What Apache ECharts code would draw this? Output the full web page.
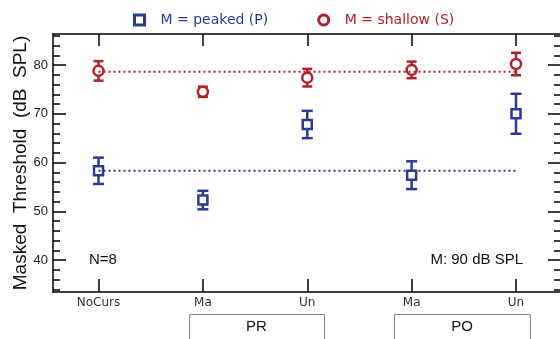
<!DOCTYPE html>
<html>
<head>
<meta charset="utf-8">
<script src="https://cdn.jsdelivr.net/npm/echarts@6/dist/echarts.min.js"></script>
<style>
html,body{margin:0;padding:0;background:#fff;}
#chart{width:560px;height:339px;}
</style>
</head>
<body>
<div id="chart"></div>
<script>
// ---- data ----
const categories = ['NoCurs', 'Ma', 'Un', 'Ma', 'Un'];
const groupLabels = ['PR', 'PO'];
const peakedMean = [58.3, 52.3, 67.8, 57.4, 70.0];
const peakedErr = [2.7, 1.9, 2.8, 2.85, 4.1];
const shallowMean = [78.8, 74.5, 77.4, 79.0, 80.2];
const shallowErr = [2.0, 1.05, 1.8, 1.7, 2.3];
const yTicks = [40, 50, 60, 70, 80];
const yMinorTicks = [34, 36, 38, 42, 44, 46, 48, 52, 54, 56, 58, 62, 64, 66, 68, 72, 74, 76, 78, 82, 84, 86];
const refPeaked = peakedMean[0];
const refShallow = 78.6;

const BLUE = '#2a3a97';
const RED = '#b3202a';
const xPos = categories.map((c, i) => i + 1);

const chart = echarts.init(document.getElementById('chart'), null, {renderer: 'canvas'});

function errRender(color, capHalf) {
  return function (params, api) {
    const x = api.value(0), m = api.value(1), e = api.value(2);
    const t = api.coord([x, m + e]);
    const b = api.coord([x, m - e]);
    const st = {stroke: color, lineWidth: 2.5, fill: null};
    return {
      type: 'group',
      children: [
        {type: 'line', shape: {x1: t[0], y1: t[1], x2: b[0], y2: b[1]}, style: st},
        {type: 'line', shape: {x1: t[0] - capHalf, y1: t[1], x2: t[0] + capHalf, y2: t[1]}, style: st},
        {type: 'line', shape: {x1: b[0] - capHalf, y1: b[1], x2: b[0] + capHalf, y2: b[1]}, style: st}
      ]
    };
  };
}

const yCommon = {type: 'value', min: 33.44, max: 86.36, splitLine: {show: false}};
const xCommon = {type: 'value', min: 0.564, max: 5.431, splitLine: {show: false}};
const axisLineStyle = {show: true, lineStyle: {color: '#000', width: 1.5}};

chart.setOption({
  animation: false,
  backgroundColor: '#fff',
  grid: {left: 53, top: 34, width: 508, height: 258, containLabel: false, outerBoundsMode: 'none'},
  legend: {
    top: 8, left: 128, itemWidth: 10, itemHeight: 10, itemGap: 49,
    textStyle: {fontFamily: 'DejaVu Sans', fontSize: 14, padding: [0, 0, 0, 11]},
    data: [
      {name: 'M = peaked (P)', icon: 'rect', itemStyle: {color: '#fff', borderColor: BLUE, borderWidth: 3}, textStyle: {color: BLUE}},
      {name: 'M = shallow (S)', icon: 'circle', itemStyle: {color: '#fff', borderColor: RED, borderWidth: 3}, textStyle: {color: RED}}
    ]
  },
  xAxis: [
    Object.assign({}, xCommon, {
      position: 'bottom',
      axisLine: axisLineStyle,
      axisTick: {show: true, inside: true, length: 13, lineStyle: {color: '#000', width: 1.5}, customValues: xPos},
      axisLabel: {show: true, customValues: xPos, margin: 5, color: '#333', fontFamily: 'DejaVu Sans', fontSize: 12,
        formatter: v => categories[Math.round(v) - 1] || ''}
    }),
    Object.assign({}, xCommon, {
      position: 'top',
      axisLine: axisLineStyle,
      axisTick: {show: true, inside: true, length: 12, lineStyle: {color: '#000', width: 1.5}, customValues: xPos},
      axisLabel: {show: false}
    })
  ],
  yAxis: [
    Object.assign({}, yCommon, {
      position: 'left',
      name: 'Masked  Threshold  (dB  SPL)', nameLocation: 'middle', nameGap: 23, nameMoveOverlap: false,
      nameTextStyle: {fontFamily: 'Liberation Sans', fontSize: 19, color: '#111'},
      axisLine: axisLineStyle,
      axisTick: {show: true, inside: true, length: 13, lineStyle: {color: '#000', width: 1.5}, customValues: yTicks},
      axisLabel: {show: true, customValues: yTicks, margin: 5, color: '#222', fontFamily: 'Liberation Sans', fontSize: 13}
    }),
    Object.assign({}, yCommon, {
      position: 'left',
      axisLine: {show: false},
      axisTick: {show: true, inside: true, length: 7, lineStyle: {color: '#000', width: 1.5}, customValues: yMinorTicks},
      axisLabel: {show: false}
    }),
    Object.assign({}, yCommon, {
      position: 'right',
      axisLine: axisLineStyle,
      axisTick: {show: true, inside: true, length: 13, lineStyle: {color: '#000', width: 1.5}, customValues: yTicks},
      axisLabel: {show: false}
    }),
    Object.assign({}, yCommon, {
      position: 'right',
      axisLine: {show: false},
      axisTick: {show: true, inside: true, length: 7, lineStyle: {color: '#000', width: 1.5}, customValues: yMinorTicks},
      axisLabel: {show: false}
    })
  ],
  series: [
    {
      name: 'peakedErr', type: 'custom', renderItem: errRender(BLUE, 5.5), z: 2,
      data: peakedMean.map((m, i) => [xPos[i], m, peakedErr[i]]), silent: true
    },
    {
      name: 'shallowErr', type: 'custom', renderItem: errRender(RED, 5), z: 2,
      data: shallowMean.map((m, i) => [xPos[i], m, shallowErr[i]]), silent: true
    },
    {
      name: 'M = peaked (P)', type: 'scatter', symbol: 'rect', symbolSize: 9, z: 3,
      itemStyle: {color: '#fff', borderColor: BLUE, borderWidth: 2.5, opacity: 1},
      data: peakedMean.map((m, i) => [xPos[i], m])
    },
    {
      name: 'M = shallow (S)', type: 'scatter', symbol: 'circle', symbolSize: 10, z: 3,
      itemStyle: {color: '#fff', borderColor: RED, borderWidth: 2.5, opacity: 1},
      data: shallowMean.map((m, i) => [xPos[i], m])
    },
    {
      name: 'refP', type: 'line', z: 4, symbol: 'none', silent: true,
      lineStyle: {color: BLUE, width: 2, type: [2, 3]},
      data: [[xPos[0], refPeaked], [xPos[xPos.length - 1], refPeaked]]
    },
    {
      name: 'refS', type: 'line', z: 4, symbol: 'none', silent: true,
      lineStyle: {color: RED, width: 2, type: [2, 3]},
      data: [[xPos[0], refShallow], [xPos[xPos.length - 1], refShallow]]
    }
  ],
  graphic: [
    {type: 'text', left: 89, top: 252, style: {text: 'N=8', font: '15px "Liberation Sans"', fill: '#111'}},
    {type: 'text', right: 37, top: 252, style: {text: 'M: 90 dB SPL', font: '15px "Liberation Sans"', fill: '#111'}},
    {type: 'rect', shape: {x: 189.5, y: 314.5, width: 135, height: 40}, style: {fill: null, stroke: '#888', lineWidth: 1}},
    {type: 'rect', shape: {x: 394.5, y: 314.5, width: 136, height: 40}, style: {fill: null, stroke: '#888', lineWidth: 1}},
    {type: 'text', x: 256.5, y: 327, style: {text: groupLabels[0], font: '15px "Liberation Sans"', fill: '#111', align: 'center', verticalAlign: 'middle'}},
    {type: 'text', x: 462, y: 327, style: {text: groupLabels[1], font: '15px "Liberation Sans"', fill: '#111', align: 'center', verticalAlign: 'middle'}}
  ]
});
</script>
</body>
</html>
